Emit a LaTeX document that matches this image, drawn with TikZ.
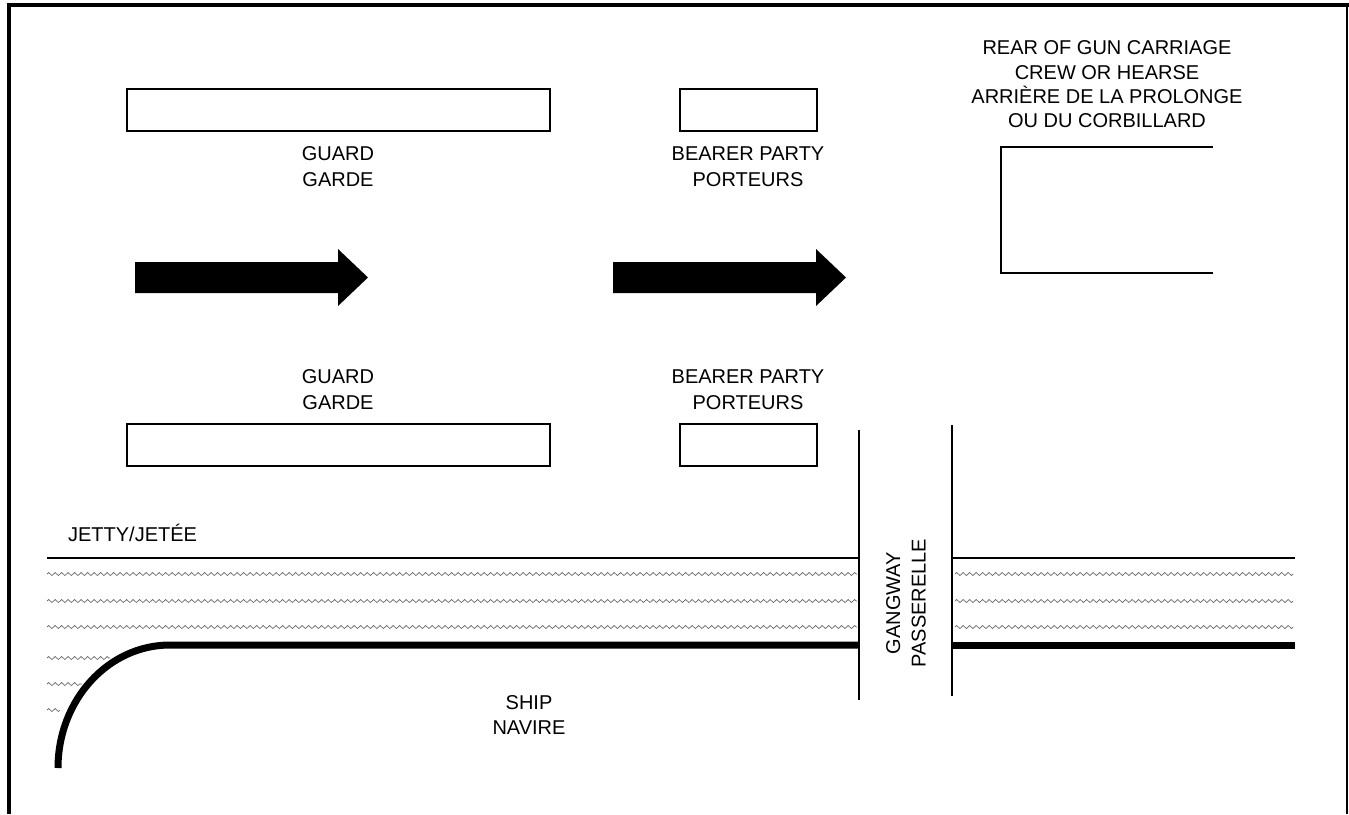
\documentclass[tikz,border=0pt]{standalone}
\usepackage{fontspec}
\setmainfont{Liberation Sans}
\usetikzlibrary{decorations.pathmorphing}
\tikzset{
  spot/.style={draw, line width=1.4pt},
  lbl/.style={align=center, inner sep=0pt, font=\fontsize{20}{25.5}\selectfont},
  water/.style={draw=black!60, line width=0.7pt, decorate,
    decoration={zigzag, segment length=6.5pt, amplitude=1.6pt}}
}
\begin{document}
\begin{tikzpicture}[x=1pt,y=-1pt,line width=2.2pt]
  \useasboundingbox (0,0) rectangle (1349,814);
  \fill[white] (0,0) rectangle (1349,814);
  \draw[line width=4pt] (9,814) -- (9,5) -- (1349,5);
  \draw (1347,5) -- (1347,814);
  \foreach \y in {89,424}{
    \draw[spot] (127,\y) rectangle (550,\y+42);
    \draw[spot] (680,\y) rectangle (817,\y+42);
  }
  \draw[spot] (1213,147) -- (1001,147) -- (1001,273) -- (1213,273);
  \node[lbl] (guardtop) at (338,166.5) {GUARD\\GARDE};
  \node[lbl] (bearertop) at (748,166.5) {BEARER PARTY\\PORTEURS};
  \node[lbl] (guardbot) at (338,389.5) {GUARD\\GARDE};
  \node[lbl] (bearerbot) at (748,389.5) {BEARER PARTY\\PORTEURS};
  \node[lbl, font=\fontsize{20}{24.3}\selectfont] (rear) at (1107,84.5)
    {REAR OF GUN CARRIAGE\\CREW OR HEARSE\\ARRIÈRE DE LA PROLONGE\\OU DU CORBILLARD};
  \foreach \x in {135,613}
    \fill (\x,262) -- (\x+203,262) -- (\x+203,249) -- (\x+233,277.5)
      -- (\x+203,306) -- (\x+203,293) -- (\x,293) -- cycle;
  \node[lbl, anchor=base west] (jetty) at (67,541) {JETTY/JETÉE};
  \draw[line width=2.8pt] (47,558) -- (859,558);
  \draw[line width=2.8pt] (952,558) -- (1295,558);
  \foreach \y in {574,601,627}{
    \draw[water] (47,\y) -- (857,\y);
    \draw[water] (955,\y) -- (1293,\y);
  }
  \draw[water] (47,658) -- (110,658);
  \draw[water] (47,684) -- (82,684);
  \draw[water] (47,710) -- (60,710);
  \draw[line width=7pt] (58,768) arc[start angle=180, end angle=270, x radius=112, y radius=123]
    -- (859,645);
  \draw[line width=7pt] (952,645) -- (1295,645);
  \draw (859,430) -- (859,700);
  \draw (952,425) -- (952,696);
  \node[lbl, rotate=90] (gangway) at (906,603) {GANGWAY\\PASSERELLE};
  \node[lbl] (ship) at (529,715) {SHIP\\NAVIRE};
\end{tikzpicture}
\end{document}
